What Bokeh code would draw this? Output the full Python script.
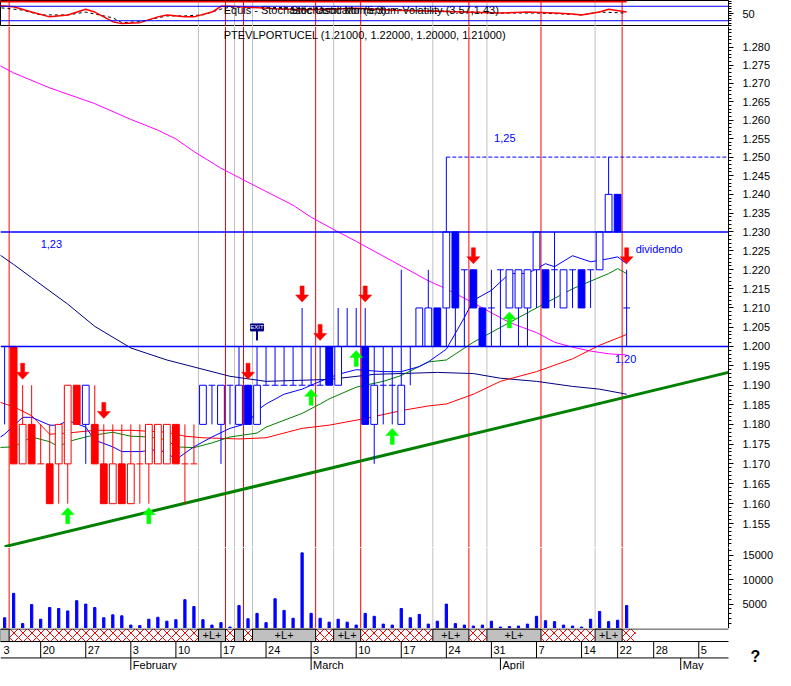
import math
from bokeh.plotting import figure
from bokeh.models import Range1d, FixedTicker, LinearAxis, LogAxis, Span, Label, PrintfTickFormatter
from bokeh.layouts import column
from bokeh.embed import file_html
from bokeh.resources import INLINE
from bokeh.core.properties import value

FONT = "Liberation Sans"

# ---------------- data ----------------
bars = list(range(1, 71))
opens = [1.20, 1.20, 1.17, 1.18, 1.17, 1.17, 1.17, 1.17, 1.19, 1.18,
         1.18, 1.17, 1.16, 1.17, 1.16, 1.17, 1.17, 1.17, 1.17, 1.18,
         1.17, 1.17, 1.18, 1.19, 1.18, 1.19, 1.18, 1.19, 1.18, 1.19,
         1.19, 1.19, 1.19, 1.19, 1.19, 1.19, 1.20, 1.19, 1.20, 1.20,
         1.20, 1.18, 1.19, 1.19, 1.18, 1.20, 1.20, 1.20, 1.21, 1.21,
         1.23, 1.22, 1.22, 1.21, 1.21, 1.22, 1.21, 1.21, 1.21, 1.22,
         1.22, 1.22, 1.21, 1.22, 1.22, 1.22, 1.22, 1.23, 1.24, 1.21]
highs = [1.20, 1.20, 1.19, 1.19, 1.18, 1.18, 1.18, 1.19, 1.19, 1.19,
         1.19, 1.18, 1.18, 1.18, 1.18, 1.18, 1.18, 1.18, 1.18, 1.18,
         1.18, 1.18, 1.19, 1.19, 1.19, 1.19, 1.20, 1.19, 1.20, 1.20,
         1.20, 1.20, 1.20, 1.21, 1.20, 1.20, 1.20, 1.21, 1.21, 1.21,
         1.21, 1.20, 1.20, 1.20, 1.22, 1.20, 1.21, 1.22, 1.21, 1.25,
         1.23, 1.22, 1.22, 1.21, 1.22, 1.22, 1.22, 1.22, 1.22, 1.23,
         1.22, 1.23, 1.22, 1.22, 1.22, 1.22, 1.23, 1.25, 1.24, 1.22]
lows = [1.18, 1.17, 1.17, 1.17, 1.17, 1.16, 1.16, 1.16, 1.18, 1.17,
        1.17, 1.16, 1.16, 1.16, 1.16, 1.16, 1.16, 1.17, 1.17, 1.17,
        1.16, 1.17, 1.18, 1.18, 1.17, 1.18, 1.18, 1.18, 1.18, 1.19,
        1.19, 1.19, 1.19, 1.19, 1.19, 1.19, 1.19, 1.19, 1.20, 1.20,
        1.18, 1.17, 1.18, 1.18, 1.18, 1.19, 1.20, 1.20, 1.20, 1.20,
        1.20, 1.20, 1.21, 1.20, 1.20, 1.20, 1.21, 1.20, 1.20, 1.21,
        1.21, 1.21, 1.21, 1.21, 1.21, 1.21, 1.22, 1.23, 1.23, 1.20]
closes = [1.20, 1.17, 1.18, 1.17, 1.17, 1.16, 1.18, 1.19, 1.18, 1.19,
          1.17, 1.16, 1.17, 1.16, 1.17, 1.17, 1.18, 1.18, 1.18, 1.17,
          1.17, 1.17, 1.19, 1.19, 1.19, 1.19, 1.19, 1.18, 1.19, 1.19,
          1.19, 1.19, 1.19, 1.19, 1.19, 1.19, 1.19, 1.20, 1.20, 1.20,
          1.18, 1.19, 1.19, 1.19, 1.19, 1.20, 1.21, 1.21, 1.20, 1.23,
          1.21, 1.22, 1.21, 1.20, 1.21, 1.22, 1.22, 1.22, 1.22, 1.23,
          1.21, 1.22, 1.22, 1.22, 1.21, 1.22, 1.23, 1.24, 1.23, 1.21]
# 1 = blue colouring, 0 = red colouring
signal = [1, 0, 0, 0, 0, 0, 0, 0, 0, 1,
          0, 0, 0, 0, 0, 0, 0, 0, 0, 0,
          0, 0, 1, 1, 1, 1, 1, 1, 1, 1,
          1, 1, 1, 1, 1, 1, 1, 1, 1, 1,
          1, 1, 1, 1, 1, 1, 1, 1, 1, 1,
          1, 1, 1, 1, 1, 1, 1, 1, 1, 1,
          1, 1, 1, 1, 1, 1, 1, 1, 1, 1]
volume = [2200, 7200, 1000, 4900, 1900, 4300, 4100, 3600, 5700, 5000,
          4300, 2200, 2800, 2600, 700, 600, 1900, 2300, 1500, 1800,
          5900, 4500, 1800, 700, 1200, 300, 4700, 2000, 3100, 1200,
          6100, 3700, 2100, 15500, 3100, 2100, 1300, 1900, 1300, 700,
          3100, 2500, 900, 700, 4100, 2200, 2900, 900, 1500, 5000,
          1000, 700, 500, 700, 1500, 300, 400, 500, 900, 2500,
          1600, 1400, 700, 500, 300, 1900, 3500, 1400, 1700, 4700]

magenta_x = [0, 2, 6, 11, 15, 18, 20, 22, 25, 29, 33, 35, 38, 40, 44, 46, 48, 50, 53, 57, 60, 62, 64, 66, 68, 70]
magenta_y = [1.2755, 1.2729, 1.2688, 1.2645, 1.2602, 1.2573, 1.2549, 1.2515, 1.2470, 1.2420, 1.2371, 1.2339,
             1.2300, 1.2275, 1.2223, 1.2197, 1.2171, 1.2150, 1.2113, 1.2062, 1.2036, 1.2011, 1.1998, 1.1988,
             1.1981, 1.1978]
navy_x = [0, 2, 4, 8, 11, 15, 19, 26, 30, 37, 42, 49, 53, 56, 60, 64, 67, 70]
navy_y = [1.2247, 1.2214, 1.2179, 1.2110, 1.2052, 1.1996, 1.1965, 1.1923, 1.1910, 1.1915, 1.1928, 1.1933,
          1.1930, 1.1918, 1.1910, 1.1897, 1.1890, 1.1877]
red_x = [0, 2, 4, 6, 8, 11, 15, 19, 21, 23, 27, 30, 34, 37, 41, 45, 48, 50, 53, 56, 60, 64, 67, 70]
red_y = [1.1860, 1.1845, 1.1822, 1.1775, 1.1778, 1.1785, 1.1785, 1.1780, 1.1770, 1.1766, 1.1763, 1.1766,
         1.1790, 1.1798, 1.1815, 1.1835, 1.1847, 1.1852, 1.1877, 1.1910, 1.1935, 1.1968, 1.2003, 1.2031]
blue_x = [0, 1, 3, 4, 6, 7, 8, 10, 11, 13, 14, 16, 18, 19, 20, 22, 24, 26, 28, 29, 30, 32, 34, 36, 38, 40,
          43, 45, 47, 48, 50, 52, 53, 55, 57, 59, 61, 62, 64, 66, 68, 69, 70]
blue_y = [1.1760, 1.1775, 1.1818, 1.1818, 1.1798, 1.1798, 1.1810, 1.1793, 1.1760, 1.1743, 1.1731, 1.1731,
          1.1736, 1.1728, 1.1711, 1.1743, 1.1768, 1.1790, 1.1803, 1.1835, 1.1852, 1.1877, 1.1890, 1.1910,
          1.1928, 1.1940, 1.1935, 1.1935, 1.1948, 1.1960, 1.1993, 1.2075, 1.2120, 1.2146, 1.2190, 1.2190,
          1.2216, 1.2208, 1.2237, 1.2221, 1.2229, 1.2234, 1.2216]
green_x = [0, 2, 4, 6, 7, 8, 10, 11, 13, 15, 17, 19, 20, 22, 24, 26, 29, 30, 34, 36, 37, 40, 43, 45, 48, 50,
           53, 57, 60, 64, 68, 69, 70]
green_y = [1.1741, 1.1743, 1.1768, 1.1756, 1.1743, 1.1756, 1.1768, 1.1773, 1.1780, 1.1770, 1.1768, 1.1761,
           1.1743, 1.1741, 1.1753, 1.1768, 1.1778, 1.1793, 1.1828, 1.1852, 1.1865, 1.1895, 1.1910, 1.1925,
           1.1960, 1.1965, 1.2011, 1.2062, 1.2100, 1.2150, 1.2190, 1.2203, 1.2190]

stoch_k_x = [0, 2, 4, 6, 8, 10, 11, 13, 14, 16, 18, 19, 21, 22, 24, 25, 26, 28, 31, 34, 37, 40, 44, 48, 52,
             56, 59, 62, 64, 65, 67, 68, 70]
stoch_k_y = [84, 78, 56, 36, 44, 68, 56, 16, 8, 12, 36, 44, 36, 36, 56, 80, 80, 76, 70, 66, 68, 72, 64, 60, 56,
             52, 56, 52, 48, 44, 56, 68, 56]
stoch_d_x = [0, 3, 5, 8, 10, 13, 14, 16, 19, 21, 23, 25, 26, 30, 35, 40, 45, 50, 56, 60, 63, 65, 67, 70]
stoch_d_y = [76, 64, 44, 44, 56, 32, 12, 16, 40, 40, 44, 68, 76, 76, 72, 70, 66, 60, 52, 52, 48, 44, 56, 52]
stoch_levels = [20, 80]
stoch_cap = 100

trend_x = [1, 81.3]
trend_y = [1.1493, 1.1933]
support_levels = [1.20, 1.23]
resist_level = 1.25
resist_from = 50

sell_bars = [3, 12, 28, 34, 36, 41, 53, 70]
buy_bars = [8, 17, 35, 40, 44, 57]
exit_bar = 29

seg_start = [0.5, 1.5, 22.5, 25.5, 26.5, 27.5, 28.5, 35.5, 37.5, 40.5, 48.5, 52.5, 54.5, 60.5, 66.5, 69.5]
seg_end = seg_start[1:] + [71.0]
seg_long = [True, False] * 8

week_idx = [0, 5, 10, 15, 20, 25, 30, 35, 40, 45, 50, 55, 60, 65, 69, 73, 78]
week_lbl = ["13", "20", "27", "3", "10", "17", "24", "3", "10", "17", "24", "31", "7", "14", "22", "28", "5"]
month_idx = [15, 35, 56, 76]
month_lbl = ["February", "March", "April", "May"]

price_ticks = [round(1.155 + 0.005 * k, 3) for k in range(26)]
price_minor = [round(1.149 + 0.001 * k, 3) for k in range(138)]
vol_ticks = [5000, 10000, 15000]
vol_minor = list(range(1000, 16001, 1000))

# ---------------- layout ----------------
W_FRAME, W_AXIS = 728, 47
H_STOCH, H_PRICE, H_VOL, H_DATE = 26, 521, 81, 42
X0, X1 = 0.543, 81.30
P_LO, P_HI = 1.14909, 1.2857
PXI = W_FRAME / (X1 - X0)
KLOG = H_PRICE / math.log(P_HI / P_LO)
BLUE, RED, NAVY = "#0000FF", "#FF0000", "#000080"


def shift(p, px):
    return p * math.exp(px / KLOG)


xr = Range1d(X0, X1)


def make_fig(h, yr, log=False, width=W_FRAME, x_range=xr, right=W_AXIS):
    f = figure(frame_width=width, frame_height=h, x_range=x_range, y_range=yr,
               y_axis_type="log" if log else "linear",
               x_axis_location=None, y_axis_location=None,
               toolbar_location=None, output_backend="svg",
               min_border_left=0, min_border_right=right,
               min_border_top=0, min_border_bottom=0)
    f.xgrid.visible = False
    f.ygrid.visible = False
    f.outline_line_color = None
    f.background_fill_color = "white"
    f.border_fill_color = "white"
    return f


def style_axis(ax):
    ax.axis_line_color = "black"
    ax.major_tick_out = 5
    ax.major_tick_in = 0
    ax.minor_tick_out = 3
    ax.minor_tick_in = 0
    ax.major_tick_line_color = "black"
    ax.minor_tick_line_color = "black"
    ax.major_label_standoff = 9
    ax.major_label_text_font = FONT
    ax.major_label_text_font_size = "11px"
    ax.major_label_text_color = "black"


def add_signal_lines(f):
    for s, lng in zip(seg_start, seg_long):
        if s <= X0:
            continue
        f.add_layout(Span(location=s, dimension="height", line_color="#C0C0C0" if lng else RED,
                          line_width=1, level="underlay"))


# ---------------- stochastic panel ----------------
sf = make_fig(H_STOCH, Range1d(-4, 104))
sf.outline_line_color = "black"
add_signal_lines(sf)
for lv in stoch_levels:
    sf.add_layout(Span(location=lv, dimension="width", line_color=BLUE, line_width=1))
sf.line([bars[0] - 1, bars[-1]], [stoch_cap, stoch_cap], line_color=RED, line_width=2)
sf.line(stoch_d_x, stoch_d_y, line_color="black", line_width=1, line_dash="3 3")
sf.line(stoch_k_x, stoch_k_y, line_color=RED, line_width=1.5)
sf.text(x=[25.3], y=[64], text=["Equis - Stochastic Oscillator (5,3)"], text_font=value(FONT),
        text_font_size="11px", text_color="black", text_baseline="middle")
sf.text(x=[32.7], y=[64], text=["Stochastic Momentum Volatility (3.57,1.43)"], text_font=value(FONT),
        text_font_size="11px", text_color="black", text_baseline="middle")
sax = LinearAxis(ticker=FixedTicker(ticks=[50], minor_ticks=[0, 10, 20, 30, 40, 60, 70, 80, 90, 100]))
style_axis(sax)
sf.add_layout(sax, "right")

# ---------------- price panel ----------------
pf = make_fig(H_PRICE, Range1d(P_LO, P_HI), log=True)
add_signal_lines(pf)
pf.line(trend_x, trend_y, line_color="#008000", line_width=3)
pf.line(magenta_x, magenta_y, line_color="#FF00FF", line_width=1)
pf.line(navy_x, navy_y, line_color=NAVY, line_width=1)
pf.line(red_x, red_y, line_color=RED, line_width=1)
pf.line(green_x, green_y, line_color="#008000", line_width=1)
pf.line(blue_x, blue_y, line_color=BLUE, line_width=1)

cols = [BLUE if s else RED for s in signal]
pf.segment(x0=bars, y0=lows, x1=bars, y1=highs, line_color=cols, line_width=1)
bx, btop, bbot, bfill, bline = [], [], [], [], []
dx, dy, dcol = [], [], []
for i, o, c, col in zip(bars, opens, closes, cols):
    if abs(o - c) < 1e-9:
        dx.append(i); dy.append(o); dcol.append(col)
    else:
        bx.append(i); btop.append(max(o, c)); bbot.append(min(o, c))
        bfill.append("white" if c > o else col); bline.append(col)
pf.vbar(x=bx, top=btop, bottom=bbot, width=0.75, fill_color=bfill, line_color=bline, line_width=1)
pf.segment(x0=[x - 0.375 for x in dx], y0=dy, x1=[x + 0.375 for x in dx], y1=dy, line_color=dcol, line_width=1)

for lv in support_levels:
    pf.add_layout(Span(location=lv, dimension="width", line_color=BLUE, line_width=1.5))
pf.ray(x=[resist_from], y=[resist_level], length=0, angle=0, line_color=BLUE, line_width=1, line_dash="4 2")


def fmt(v):
    return f"{v:.2f}".replace(".", ",")


pf.text(x=[5.0], y=[shift(support_levels[1], -12)], text=[fmt(support_levels[1])], text_font=value(FONT),
        text_font_size="11px", text_color=BLUE, text_baseline="middle")
pf.text(x=[55.3], y=[shift(resist_level, 19)], text=[fmt(resist_level)], text_font=value(FONT),
        text_font_size="11px", text_color=BLUE, text_baseline="middle")
pf.text(x=[68.7], y=[shift(support_levels[0], -13)], text=[fmt(support_levels[0])], text_font=value(FONT),
        text_font_size="11px", text_color=BLUE, text_baseline="middle")
pf.text(x=[71.0], y=[shift(support_levels[1], -17)], text=["dividendo"], text_font=value(FONT),
        text_font_size="11px", text_color=BLUE, text_baseline="middle")

hi = dict(zip(bars, highs))
lo = dict(zip(bars, lows))
down_shape = [(0, 6), (6.5, 13), (2, 13), (2, 22), (-2, 22), (-2, 13), (-6.5, 13)]
up_shape = [(0, 4), (6.5, 11), (2, 11), (2, 20), (-2, 20), (-2, 11), (-6.5, 11)]
axs, ays = [], []
for b in sell_bars:
    axs.append([b + ddx / PXI for ddx, ddy in down_shape])
    ays.append([shift(hi[b], ddy) for ddx, ddy in down_shape])
pf.patches(axs, ays, fill_color=RED, line_color=RED, line_width=0.5)
gxs, gys = [], []
for b in buy_bars:
    gxs.append([b + ddx / PXI for ddx, ddy in up_shape])
    gys.append([shift(lo[b], -ddy) for ddx, ddy in up_shape])
pf.patches(gxs, gys, fill_color="#00FF00", line_color="#00FF00", line_width=0.5)

# exit sign
pf.segment(x0=[exit_bar], y0=[shift(hi[exit_bar], 6)], x1=[exit_bar], y1=[shift(hi[exit_bar], 16)],
           line_color=NAVY, line_width=2)
pf.rect(x=[exit_bar], y=[shift(hi[exit_bar], 19)], width=13, height=7, width_units="screen",
        height_units="screen", fill_color=NAVY, line_color=NAVY)
pf.text(x=[exit_bar], y=[shift(hi[exit_bar], 19)], text=["EXIT"], text_font=value(FONT),
        text_font_size="6px", text_color="white", text_align="center", text_baseline="middle")

title = "PTEVLPORTUCEL ({:.5f}, {:.5f}, {:.5f}, {:.5f})".format(opens[-1], highs[-1], lows[-1], closes[-1])
pf.text(x=[25.3], y=[1.2833], text=[title], text_font=value(FONT), text_font_size="11px",
        text_color="black", text_baseline="middle")

pax = LogAxis(ticker=FixedTicker(ticks=price_ticks, minor_ticks=price_minor),
              formatter=PrintfTickFormatter(format="%.3f"))
style_axis(pax)
pf.add_layout(pax, "right")

# ---------------- volume panel ----------------
vf = make_fig(H_VOL, Range1d(0, 16600))
add_signal_lines(vf)
vf.vbar(x=bars, top=volume, bottom=0, width=0.25, fill_color=BLUE, line_color=BLUE)
vax = LinearAxis(ticker=FixedTicker(ticks=vol_ticks, minor_ticks=vol_minor))
style_axis(vax)
vf.add_layout(vax, "right")
vf.add_layout(Label(x=X1 + 3 / PXI, y=700, text="00", text_font=FONT, text_font_size="9px",
                    text_color="black", text_baseline="bottom", border_line_color="black",
                    background_fill_color="white", padding=1))

# ---------------- date strip / axis ----------------
bx1 = X0 + (X1 - X0) * (W_FRAME + W_AXIS) / W_FRAME
df = make_fig(H_DATE, Range1d(43, -0.5), width=W_FRAME + W_AXIS, x_range=Range1d(X0, bx1), right=0)
Ls = [(s, e) for s, e, l in zip(seg_start, seg_end, seg_long) if l]
Xs = [(s, e) for s, e, l in zip(seg_start, seg_end, seg_long) if not l]
df.quad(left=[s for s, e in Xs], right=[e for s, e in Xs], top=0, bottom=13, fill_color="white",
        hatch_pattern="diagonal_cross", hatch_color=RED, hatch_scale=9, hatch_weight=1, line_color=None)
df.quad(left=[s for s, e in Ls], right=[e for s, e in Ls], top=0, bottom=13, fill_color="#C0C0C0",
        line_color="black", line_width=1)
lab = [((s + e) / 2) for s, e in Ls if e - s >= 3]
df.text(x=lab, y=[6.5] * len(lab), text=["+L+"] * len(lab), text_font=value(FONT), text_font_size="11px",
        text_color="black", text_align="center", text_baseline="middle")
df.segment(x0=[X0] * 3, y0=[0, 13, 30], x1=[X1] * 3, y1=[0, 13, 30], line_color="black", line_width=1)
df.segment(x0=week_idx, y0=[13] * len(week_idx), x1=week_idx, y1=[30] * len(week_idx), line_color="black")
df.segment(x0=month_idx, y0=[30] * len(month_idx), x1=month_idx, y1=[43] * len(month_idx), line_color="black")
# week labels; a label whose tick lies left of the visible frame only shows its last digit
wl_x, wl_t, wl_off = [], [], []
for w, t in zip(week_idx, week_lbl):
    if w < X0 and len(t) > 1:
        wl_x.append(w); wl_t.append(t[-1]); wl_off.append(8)
    else:
        wl_x.append(w); wl_t.append(t); wl_off.append(2)
df.text(x=wl_x, y=[21.5] * len(wl_x), text=wl_t, x_offset=wl_off, text_font=value(FONT),
        text_font_size="11px", text_color="black", text_baseline="middle")
df.text(x=month_idx, y=[37] * len(month_idx), text=month_lbl, x_offset=2, text_font=value(FONT),
        text_font_size="11px", text_color="black", text_baseline="middle")
df.text(x=[X1 + 22 / PXI], y=[29], text=["?"], text_font=value(FONT), text_font_size="16px",
        text_font_style="bold", text_color="black", text_baseline="middle")

layout = column(sf, pf, vf, df)
open("out.html", "w").write(file_html(layout, INLINE, title="PTEVLPORTUCEL"))
